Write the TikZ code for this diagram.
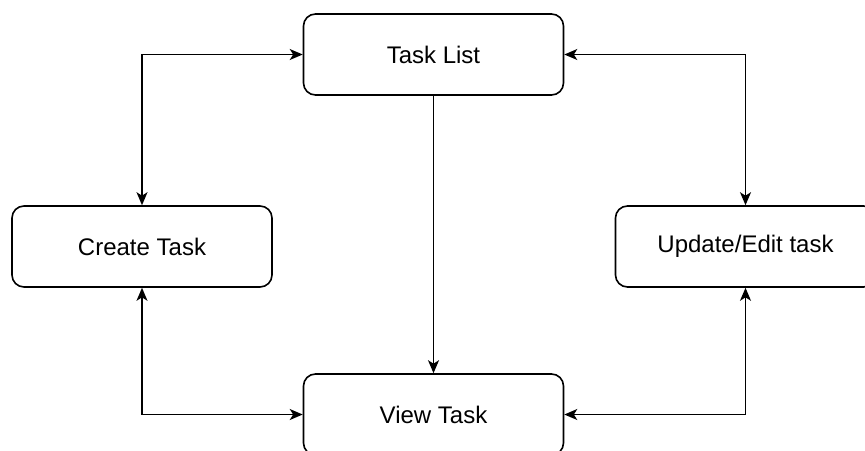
\documentclass[tikz,border=0pt]{standalone}
\usepackage{fontspec}
\setmainfont{Liberation Sans}
\usetikzlibrary{arrows.meta}
\begin{document}
\begin{tikzpicture}[x=1pt,y=-1pt,
  box/.style={draw=black, line width=1.6pt, rounded corners=12pt, fill=white,
    minimum width=260pt, minimum height=81pt, inner sep=0pt,
    font=\fontsize{24}{28}\selectfont},
  tip/.tip={Stealth[length=13pt,width=11pt,inset=3.5pt]},
  conn/.style={line width=1.6pt, draw=black, tip-tip},
  oneway/.style={line width=1.6pt, draw=black, -tip}]
\useasboundingbox (0,0) rectangle (865,450);
\clip (0,0) rectangle (865,450);
\fill[white] (0,0) rectangle (865,450);
\node[box] (tl) at (433.5,54.5) {\raisebox{-1pt}{Task List}};
\node[box] (ct) at (142,246.5) {\raisebox{-1pt}{Create Task}};
\node[box] (ue) at (745.5,246.5) {\raisebox{-1pt}{Update/Edit task}};
\node[box] (vt) at (433.5,414.5) {\raisebox{-1pt}{View Task}};
\draw[conn] (ct.north) |- (tl.west);
\draw[conn] (ue.north) |- (tl.east);
\draw[oneway] (tl.south) -- (vt.north);
\draw[conn] (ct.south) |- (vt.west);
\draw[conn] (ue.south) |- (vt.east);
\end{tikzpicture}
\end{document}
